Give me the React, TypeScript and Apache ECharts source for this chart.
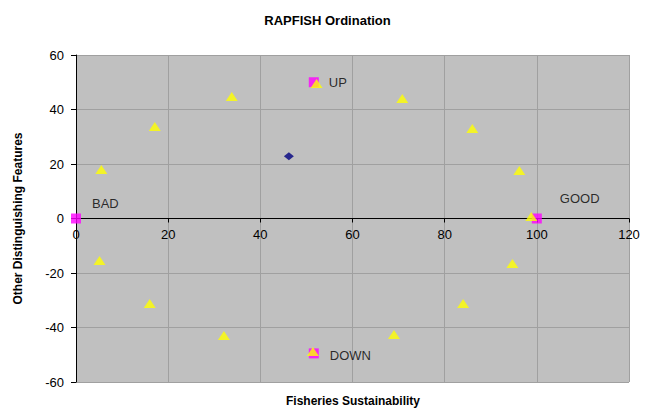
import React, { useEffect, useRef } from "react";
import * as echarts from "echarts";

const fisheriesX = [5.5, 17.1, 33.8, 52.2, 70.8, 86.0, 96.2, 98.8, 94.7, 84.0, 69.0, 51.4, 32.1, 16.0, 5.1];
const fisheriesY = [18.0, 33.8, 44.8, 49.5, 44.0, 33.0, 17.6, 0.7, -16.5, -31.2, -42.6, -48.8, -42.9, -31.2, -15.4];

const anchorNames = ["BAD", "GOOD", "UP", "DOWN"];
const anchorX = [0, 100, 51.6, 51.6];
const anchorY = [0, 0, 50, -49.5];

const currentPoint = [46.2, 22.8];

const xTicks = { min: 0, max: 120, interval: 20 };
const yTicks = { min: -60, max: 60, interval: 20 };

const FONT = "Liberation Sans, Arial, sans-serif";

export default function App() {
  const ref = useRef<HTMLDivElement>(null);
  useEffect(() => {
    if (!ref.current) return;
    const chart = echarts.init(ref.current, null, { renderer: "svg" });
    const labelOffsets: Record<string, number[]> = {
      BAD: [11, -15],
      GOOD: [18, -20],
      UP: [10, 0],
      DOWN: [11, 2],
    };
    const gridTop = 55;
    const gridBottom = 29;
    const plotH = 411 - gridTop - gridBottom;
    chart.setOption({
      animation: false,
      backgroundColor: "#ffffff",
      textStyle: { fontFamily: FONT },
      title: {
        text: "RAPFISH Ordination",
        left: "center",
        top: 9,
        textStyle: { fontFamily: FONT, fontSize: 13, fontWeight: "bold", color: "#000" },
      },
      graphic: [
        {
          type: "text",
          x: 353,
          y: 401,
          style: {
            text: "Fisheries Sustainability",
            fontFamily: FONT,
            fontSize: 12,
            fontWeight: "bold",
            fill: "#000",
            align: "center",
            verticalAlign: "middle",
          },
        },
      ],
      grid: {
        left: 76,
        right: 26,
        top: gridTop,
        bottom: gridBottom,
        show: true,
        backgroundColor: "#c0c0c0",
        borderWidth: 0,
      },
      xAxis: {
        type: "value",
        min: xTicks.min,
        max: xTicks.max,
        interval: xTicks.interval,
        offset: -plotH / 2,
        axisLine: { show: true, onZero: false, lineStyle: { color: "#000", width: 1 } },
        axisTick: { show: true, length: 4, lineStyle: { color: "#000" } },
        axisLabel: { color: "#000", fontSize: 13, fontFamily: FONT, margin: 9 },
        splitLine: { show: true, lineStyle: { color: "#a0a0a0", width: 1 } },
      },
      yAxis: {
        type: "value",
        min: yTicks.min,
        max: yTicks.max,
        interval: yTicks.interval,
        name: "Other Distinguishing Features",
        nameLocation: "middle",
        nameRotate: 90,
        nameGap: 52,
        nameTextStyle: { fontFamily: FONT, fontSize: 12, fontWeight: "bold", color: "#000" },
        axisLine: { show: true, onZero: false, lineStyle: { color: "#000", width: 1 } },
        axisTick: { show: true, length: 5, lineStyle: { color: "#000" } },
        axisLabel: { color: "#000", fontSize: 13, fontFamily: FONT, margin: 12 },
        splitLine: { show: true, lineStyle: { color: "#a0a0a0", width: 1 } },
      },
      series: [
        {
          type: "scatter",
          name: "anchors",
          symbol: "rect",
          symbolSize: 10,
          itemStyle: { color: "#ff00ff" },
          z: 2,
          data: anchorNames.map((n, i) => ({
            value: [anchorX[i], anchorY[i]],
            name: n,
            label: {
              show: true,
              formatter: n,
              position: "right",
              distance: 0,
              offset: labelOffsets[n],
              color: "#000",
              fontSize: 13,
              fontFamily: FONT,
            },
          })),
        },
        {
          type: "scatter",
          name: "fisheries",
          symbol: "triangle",
          symbolSize: [12, 9],
          itemStyle: { color: "#ffff00" },
          z: 3,
          data: fisheriesX.map((x, i) => [x, fisheriesY[i]]),
        },
        {
          type: "scatter",
          name: "current",
          symbol: "diamond",
          symbolSize: [10, 8],
          itemStyle: { color: "#000080" },
          z: 4,
          data: [currentPoint],
        },
      ],
    });
    return () => chart.dispose();
  }, []);
  return <div ref={ref} style={{ width: 655, height: 411, position: "absolute", left: 0, top: 0 }} />;
}
